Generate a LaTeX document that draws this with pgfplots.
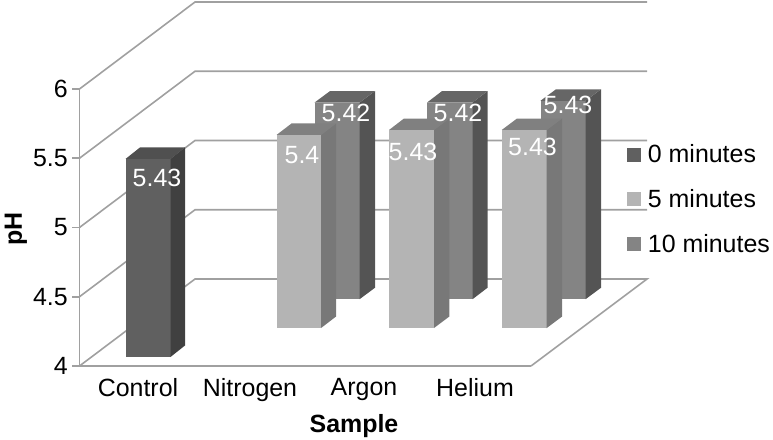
\documentclass[border=0pt]{standalone}
\usepackage{fontspec}
\setmainfont{Liberation Sans}
\usepackage{pgfplots}
\pgfplotsset{compat=1.18}
\newcommand{\tf}{\fontsize{18.7pt}{22pt}\selectfont}
\definecolor{gridc}{HTML}{A0A0A0}
\definecolor{azf}{HTML}{606060}\definecolor{azs}{HTML}{404040}\definecolor{azt}{HTML}{505050}
\definecolor{bzf}{HTML}{B4B4B4}\definecolor{bzs}{HTML}{787878}\definecolor{bzt}{HTML}{808080}
\definecolor{czf}{HTML}{848484}\definecolor{czs}{HTML}{545454}\definecolor{czt}{HTML}{666666}
\begin{document}
\begin{tikzpicture}
\path[use as bounding box] (-59.625pt,-54.75pt) rectangle (520.125pt,274.5pt);
\begin{axis}[
  scale only axis, width=338.625pt, height=207.75pt,
  xmin=79.5, xmax=531, ymin=4, ymax=6,
  clip=false,
  axis x line=bottom, axis y line=left,
  axis line style={-, draw=gridc, line width=1.2pt},
  xtick={138,250,364,475},
  xticklabels={Control,Nitrogen,Argon,Helium},
  ytick={4,4.5,5,5.5,6},
  yticklabels={4,4.5,5,5.5,6},
  xtick style={draw=none},
  ytick style={draw=gridc, line width=1.2pt},
  tick align=outside,
  major tick length=5.25pt,
  /pgf/number format/assume math mode=true,
  tick label style={font=\tf, text=black},
  x tick label style={yshift=-0.75pt},
  xlabel={\textbf{Sample}},
  ylabel={\textbf{pH}},
  every axis x label/.style={at={(axis cs:354,3.567)},anchor=center,font=\tf},
  every axis y label/.style={at={(axis cs:16,4.99)},rotate=90,anchor=center,font=\tf},
  legend cell align=left,
  legend style={at={(axis cs:627,5.62)},anchor=north west,draw=none,fill=none,font=\tf,
     row sep=14.6pt, inner sep=0pt},
  legend image code/.code={\fill[#1] (0pt,-5.25pt) rectangle (10.5pt,5.25pt);\path (13.5pt,0pt);},
]
\addlegendimage{fill=azf,draw=none}
\addlegendentry{0 minutes}
\addlegendimage{fill=bzf,draw=none}
\addlegendentry{5 minutes}
\addlegendimage{fill=czf,draw=none}
\addlegendentry{10 minutes}
% walls and floor
\addplot[gridc,line width=1.2pt,forget plot] coordinates {(79.5,4) (195,4.628) (647,4.628) (531,4)};
\addplot[gridc,line width=1.2pt,forget plot] coordinates {(79.5,4.5) (195,5.128) (647,5.128)};
\addplot[gridc,line width=1.2pt,forget plot] coordinates {(79.5,5) (195,5.628) (647,5.628)};
\addplot[gridc,line width=1.2pt,forget plot] coordinates {(79.5,5.5) (195,6.128) (647,6.128)};
\addplot[gridc,line width=1.2pt,forget plot] coordinates {(79.5,6) (195,6.628) (647,6.628)};
% 10 minutes
\addplot[fill=czf,draw=none,forget plot] coordinates {(314.5,4.482) (359.5,4.482) (359.5,5.902) (314.5,5.902)} --cycle;
\addplot[fill=czs,draw=none,forget plot] coordinates {(359.5,4.482) (375,4.565) (375,5.985) (359.5,5.902)} --cycle;
\addplot[fill=czt,draw=none,forget plot] coordinates {(314.5,5.902) (330,5.985) (375,5.985) (359.5,5.902)} --cycle;
\addplot[fill=czf,draw=none,forget plot] coordinates {(427,4.482) (472.5,4.482) (472.5,5.902) (427,5.902)} --cycle;
\addplot[fill=czs,draw=none,forget plot] coordinates {(472.5,4.482) (487.5,4.565) (487.5,5.985) (472.5,5.902)} --cycle;
\addplot[fill=czt,draw=none,forget plot] coordinates {(427,5.902) (442,5.985) (487.5,5.985) (472.5,5.902)} --cycle;
\addplot[fill=czf,draw=none,forget plot] coordinates {(540.5,4.482) (585.5,4.482) (585.5,5.915) (540.5,5.915)} --cycle;
\addplot[fill=czs,draw=none,forget plot] coordinates {(585.5,4.482) (601,4.565) (601,5.998) (585.5,5.915)} --cycle;
\addplot[fill=czt,draw=none,forget plot] coordinates {(540.5,5.915) (556,5.998) (601,5.998) (585.5,5.915)} --cycle;
% 5 minutes
\addplot[fill=bzf,draw=none,forget plot] coordinates {(276.5,4.274) (321,4.274) (321,5.668) (276.5,5.668)} --cycle;
\addplot[fill=bzs,draw=none,forget plot] coordinates {(321,4.274) (336,4.357) (336,5.751) (321,5.668)} --cycle;
\addplot[fill=bzt,draw=none,forget plot] coordinates {(276.5,5.668) (291.5,5.751) (336,5.751) (321,5.668)} --cycle;
\addplot[fill=bzf,draw=none,forget plot] coordinates {(389,4.274) (434,4.274) (434,5.704) (389,5.704)} --cycle;
\addplot[fill=bzs,draw=none,forget plot] coordinates {(434,4.274) (449.3,4.357) (449.3,5.787) (434,5.704)} --cycle;
\addplot[fill=bzt,draw=none,forget plot] coordinates {(389,5.704) (404,5.787) (449.3,5.787) (434,5.704)} --cycle;
\addplot[fill=bzf,draw=none,forget plot] coordinates {(501.7,4.274) (546.7,4.274) (546.7,5.704) (501.7,5.704)} --cycle;
\addplot[fill=bzs,draw=none,forget plot] coordinates {(546.7,4.274) (562,4.357) (562,5.787) (546.7,5.704)} --cycle;
\addplot[fill=bzt,draw=none,forget plot] coordinates {(501.7,5.704) (517,5.787) (562,5.787) (546.7,5.704)} --cycle;
% 0 minutes
\addplot[fill=azf,draw=none,forget plot] coordinates {(125.5,4.065) (170.5,4.065) (170.5,5.495) (125.5,5.495)} --cycle;
\addplot[fill=azs,draw=none,forget plot] coordinates {(170.5,4.065) (185,4.148) (185,5.578) (170.5,5.495)} --cycle;
\addplot[fill=azt,draw=none,forget plot] coordinates {(125.5,5.495) (140,5.578) (185,5.578) (170.5,5.495)} --cycle;
% value labels
\addplot[draw=none,mark=none,forget plot,point meta=explicit symbolic,nodes near coords,
  every node near coord/.style={anchor=center,text=white,font=\tf,inner sep=0pt}]
  coordinates {(157,5.357)[5.43] (302,5.523)[5.4] (346,5.827)[5.42] (413,5.545)[5.43]
               (458,5.827)[5.42] (532.5,5.581)[5.43] (568,5.885)[5.43]};
\end{axis}
\end{tikzpicture}
\end{document}
